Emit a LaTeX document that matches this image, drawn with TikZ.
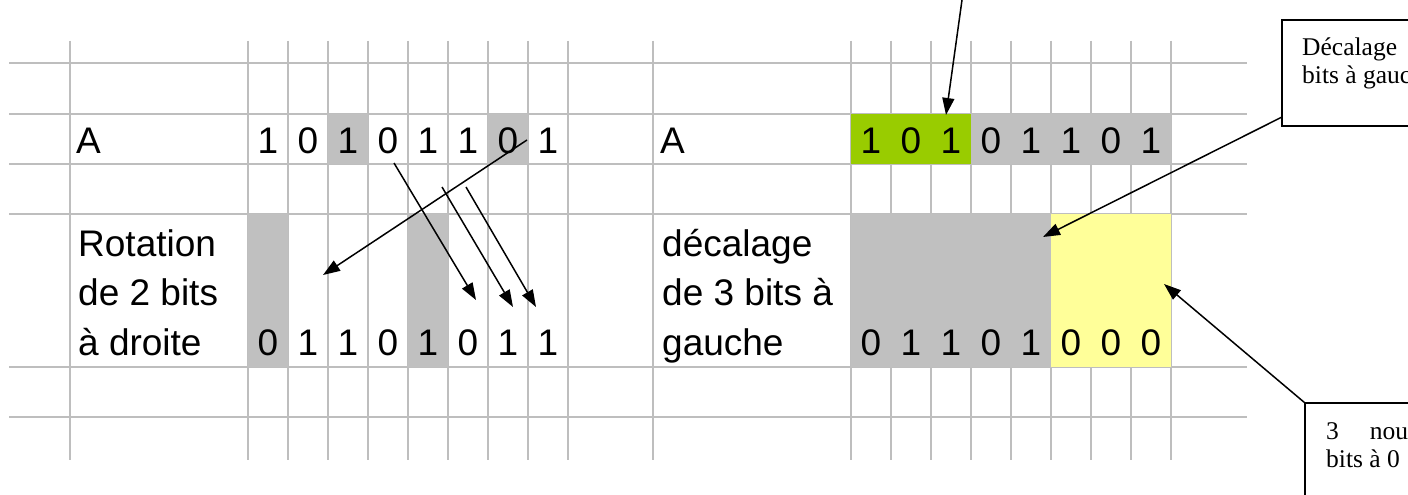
\documentclass[tikz,border=0pt]{standalone}
\usepackage{fontspec}
\setmainfont{Liberation Serif}
\setsansfont{Liberation Sans}
\usetikzlibrary{arrows.meta}
\definecolor{gridc}{RGB}{190,190,190}
\definecolor{cellgray}{RGB}{192,192,192}
\definecolor{cellgreen}{RGB}{153,204,0}
\definecolor{cellyellow}{RGB}{255,255,153}
\begin{document}
\begin{tikzpicture}[x=1pt,y=-1pt,
  gridline/.style={draw=gridc, line width=1.2pt},
  xl/.style={font=\sffamily\fontsize{37}{37}\selectfont, inner sep=0pt, anchor=base west},
  dg/.style={font=\sffamily\fontsize{37}{37}\selectfont, inner sep=0pt, anchor=base},
  callout/.style={draw, line width=1.2pt, fill=white, inner sep=0pt, outer sep=0pt, anchor=north west},
  ctext/.style={font=\fontsize{25.5}{25.5}\selectfont, inner sep=0pt, anchor=base west},
  arr/.style={line width=1.5pt, -{Triangle[length=17pt,width=12pt]}}]
\useasboundingbox (0,0) rectangle (1408,495);
\clip (0,0) rectangle (1408,495);
\fill[white] (0,0) rectangle (1408,495);
% grid
\foreach \x in {70,248,288,328,368,408,448,488,528,568,653,851,891,931,971,1011,1051,1091,1131,1171}
  \draw[gridline] (\x,41) -- (\x,460);
\foreach \y in {63,114,164,214,367,417}
  \draw[gridline] (9,\y) -- (1247,\y);
% fills
\fill[cellgray] (328,114) rectangle (368,164);
\fill[cellgray] (488,114) rectangle (528,164);
\fill[cellgray] (248,214) rectangle (288,367);
\fill[cellgray] (408,214) rectangle (448,367);
\fill[cellgreen] (851,114) rectangle (971,164);
\fill[cellgray] (971,114) rectangle (1171,164);
\fill[cellgray] (851,214) rectangle (1051,367);
\fill[cellyellow] (1051,214) rectangle (1171,367);
% labels
\node[xl] (lA) at (76,153) {A};
\node[xl] (lr1) at (78,256) {Rotation};
\node[xl] (lr2) at (78,305) {de 2 bits};
\node[xl] (lr3) at (78,355) {à droite};
\node[xl] (rA) at (660,153) {A};
\node[xl] (rd1) at (662,256) {décalage};
\node[xl] (rd2) at (662,305) {de 3 bits à};
\node[xl] (rd3) at (662,355) {gauche};
% digits
\foreach \d [count=\i from 0] in {1,0,1,0,1,1,0,1}
  \node[dg] (lt\i) at (268+40*\i,153) {\d};
\foreach \d [count=\i from 0] in {0,1,1,0,1,0,1,1}
  \node[dg] (lb\i) at (268+40*\i,355) {\d};
\foreach \d [count=\i from 0] in {1,0,1,0,1,1,0,1}
  \node[dg] (rt\i) at (871+40*\i,153) {\d};
\foreach \d [count=\i from 0] in {0,1,1,0,1,0,0,0}
  \node[dg] (rb\i) at (871+40*\i,355) {\d};
% callouts
\node[callout, minimum width=220pt, minimum height=106pt] (b1) at (1282,20) {};
\node[ctext] (b1t1) at (1302,56) {Décalage};
\node[ctext] (b1t2) at (1302,83) {bits à gauc};
\node[callout, minimum width=220pt, minimum height=150pt] (b2) at (1305,403) {};
\node[ctext] (b2t1) at (1326,439) {3\hspace{31pt}nou};
\node[ctext] (b2t2) at (1326,467) {bits à 0};
% arrow end points
\coordinate (t0) at (962,0);
\coordinate (t1) at (946,115);
\coordinate (b1s) at (1282,117);
\coordinate (g1) at (1043,237);
\coordinate (y1) at (1164,284);
\coordinate (a0) at (527,140);
\coordinate (a0e) at (323,275);
\coordinate (a1) at (394,163);
\coordinate (a1e) at (476,300);
\coordinate (a2) at (442,187);
\coordinate (a2e) at (513,307);
\coordinate (a3) at (466,187);
\coordinate (a3e) at (536,307);
% arrows
\draw[arr] (t0) -- (t1);
\draw[arr] (b1s) -- (g1);
\draw[arr] (b2.north west) -- (y1);
\draw[arr] (a0) -- (a0e);
\draw[arr] (a1) -- (a1e);
\draw[arr] (a2) -- (a2e);
\draw[arr] (a3) -- (a3e);
\end{tikzpicture}
\end{document}
